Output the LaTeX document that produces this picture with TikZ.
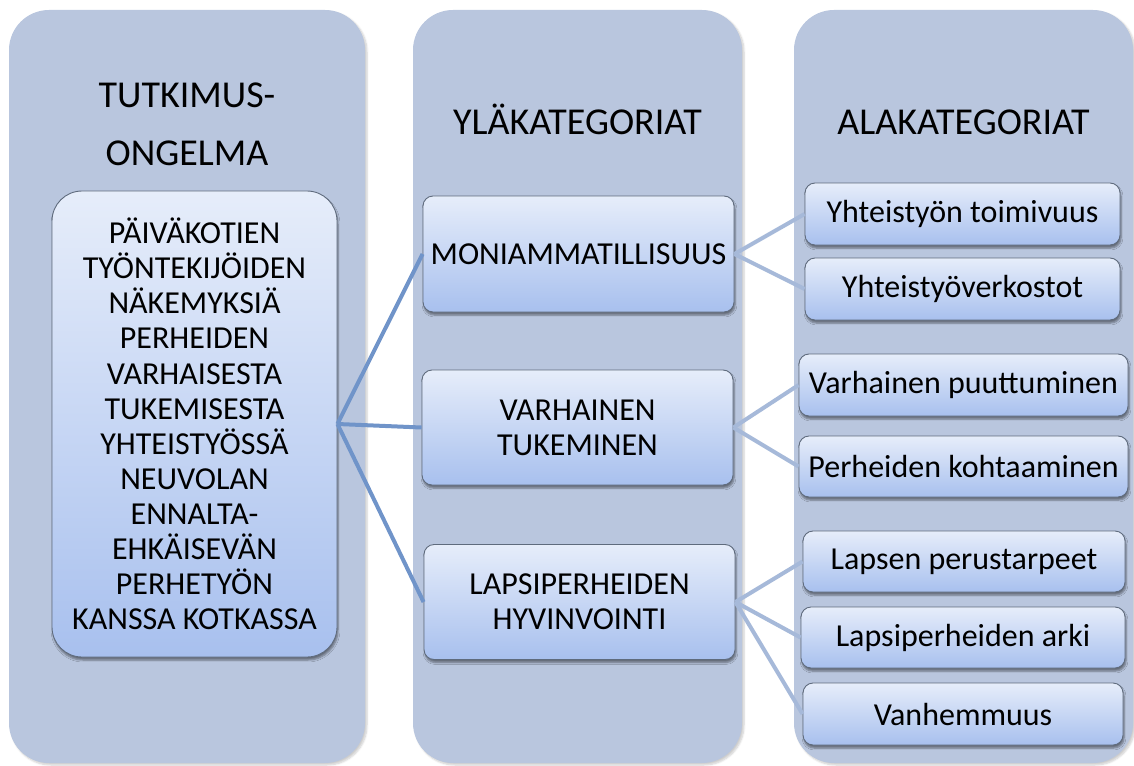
\documentclass[tikz,border=0pt]{standalone}
\usepackage{fontspec}
\setmainfont{Carlito}
\usetikzlibrary{shadows.blur}
\definecolor{colbg}{HTML}{B9C6DE}
\definecolor{boxtop}{HTML}{E6EDFA}
\definecolor{boxbot}{HTML}{A8C0EE}
\definecolor{boxline}{HTML}{5F6B7D}
\definecolor{linkA}{HTML}{7094C9}
\definecolor{linkB}{HTML}{A6B9D9}
\tikzset{
  column/.style={fill=colbg, rounded corners=40pt, blur shadow={shadow xshift=2pt, shadow yshift=-2pt, shadow blur steps=6, shadow opacity=20}},
  head/.style={anchor=base, font=\fontsize{38}{44}\selectfont, inner sep=0pt},
  catbox/.style={draw=boxline, line width=0.9pt, rounded corners=10pt, top color=boxtop, bottom color=boxbot,
    align=center, font=\fontsize{32}{35.1}\selectfont, inner sep=0pt,
    blur shadow={shadow xshift=1pt, shadow yshift=-3pt, shadow blur steps=5, shadow opacity=45}},
  mainbox/.style={catbox, rounded corners=30pt},
  linkone/.style={draw=linkA, line width=4pt},
  linktwo/.style={draw=linkB, line width=4pt},
}
\begin{document}
\begin{tikzpicture}[x=1pt,y=-1pt]
\useasboundingbox (0,0) rectangle (1134,765);
% columns
\path[column] (9,10) rectangle (365,763);
\path[column] (413,10) rectangle (742,763);
\path[column] (794,10) rectangle (1133,763);
% headers
\node[head] (h1a) at (187,107) {TUTKIMUS-};
\node[head] (h1b) at (187,165) {ONGELMA};
\node[head] (h2) at (577.5,134) {YLÄKATEGORIAT};
\node[head] (h3) at (963.5,134) {ALAKATEGORIAT};
% main box
\node[mainbox, minimum width=285pt, minimum height=466pt] (lb) at (194.5,424)
  {PÄIVÄKOTIEN\\TYÖNTEKIJÖIDEN\\NÄKEMYKSIÄ\\PERHEIDEN\\VARHAISESTA\\TUKEMISESTA\\YHTEISTYÖSSÄ\\NEUVOLAN\\ENNALTA-\\EHKÄISEVÄN\\PERHETYÖN\\KANSSA KOTKASSA};
% middle boxes
\node[catbox, minimum width=311pt, minimum height=116pt] (m1) at (578.5,254) {MONIAMMATILLISUUS};
\node[catbox, minimum width=311pt, minimum height=115pt] (m2) at (577.5,427.5) {VARHAINEN\\TUKEMINEN};
\node[catbox, minimum width=311pt, minimum height=115pt] (m3) at (579.5,602) {LAPSIPERHEIDEN\\HYVINVOINTI};
% right boxes
\node[catbox, minimum width=315pt, minimum height=62pt] (r1) at (962.5,214) {Yhteistyön toimivuus};
\node[catbox, minimum width=315pt, minimum height=62pt] (r2) at (962.5,289) {Yhteistyöverkostot};
\node[catbox, minimum width=329pt, minimum height=62pt] (r3) at (963.5,385) {Varhainen puuttuminen};
\node[catbox, minimum width=329pt, minimum height=61pt] (r4) at (963.5,466.5) {Perheiden kohtaaminen};
\node[catbox, minimum width=322pt, minimum height=61pt] (r5) at (964,561.5) {Lapsen perustarpeet};
\node[catbox, minimum width=324pt, minimum height=61pt] (r6) at (963,637.5) {Lapsiperheiden arki};
\node[catbox, minimum width=320pt, minimum height=62pt] (r7) at (963,714) {Vanhemmuus};
% connectors
\draw[linkone] (lb.east) -- (m1.west);
\draw[linkone] (lb.east) -- (m2.west);
\draw[linkone] (lb.east) -- (m3.west);
\draw[linktwo] (m1.east) -- (r1.west);
\draw[linktwo] (m1.east) -- (r2.west);
\draw[linktwo] (m2.east) -- (r3.west);
\draw[linktwo] (m2.east) -- (r4.west);
\draw[linktwo] (m3.east) -- (r5.west);
\draw[linktwo] (m3.east) -- (r6.west);
\draw[linktwo] (m3.east) -- (r7.west);
\end{tikzpicture}
\end{document}
